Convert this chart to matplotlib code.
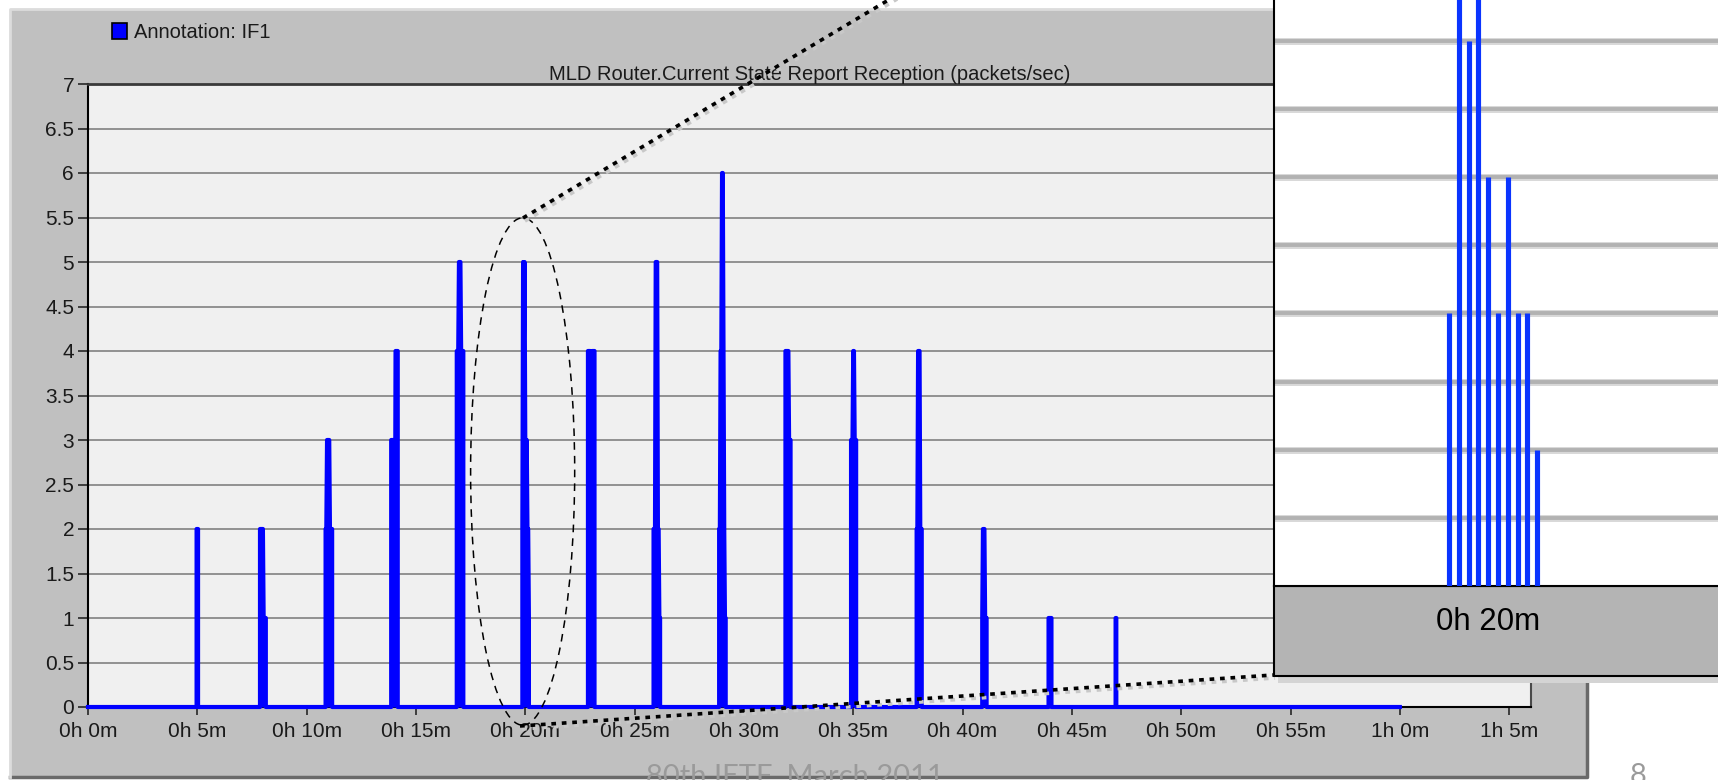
import numpy as np
import matplotlib
matplotlib.use('Agg')
import matplotlib.pyplot as plt
import matplotlib.transforms as mtransforms
from matplotlib.patches import Rectangle, Ellipse
from matplotlib.lines import Line2D

plt.rcParams['font.family'] = ['Liberation Sans', 'DejaVu Sans']

# ---- data ----
# one burst of report packets every 3 minutes, values are packets/sec per sample
spike_minutes = [5, 8, 11, 14, 17, 20, 23, 26, 29, 32, 35, 38, 41, 44, 47]
spike_values = [
    [2, 2, 2],
    [2, 2, 2, 2, 2, 1, 1, 1, 1],
    [2, 2, 3, 3, 3, 3, 2, 2, 2, 2],
    [3, 3, 3, 3, 1, 1, 4, 4, 4, 4],
    [4, 4, 4, 5, 5, 5, 4, 4, 4, 4],
    [2, 5, 4, 5, 3, 2, 3, 2, 2, 1],
    [4, 4, 4, 4, 1, 1, 4, 4, 4, 4],
    [2, 2, 2, 5, 5, 5, 2, 2, 1, 1],
    [2, 2, 4, 4, 6, 6, 4, 2, 1, 1],
    [4, 4, 4, 4, 4, 3, 3, 3],
    [3, 3, 3, 4, 4, 3, 3, 3],
    [2, 2, 4, 4, 4, 2, 2, 2],
    [1, 2, 2, 2, 1, 1, 1],
    [1, 1, 1, 1, 1],
    [1, 1],
]
sample_step = 2 / 60.0      # time between samples inside a burst (min)
trace_end = 60              # trace stops at 1h 0m
zoom_minute = 20            # burst shown in the zoomed box

x_ticks = [0, 5, 10, 15, 20, 25, 30, 35, 40, 45, 50, 55, 60, 65]
x_labels = ['0h 0m', '0h 5m', '0h 10m', '0h 15m', '0h 20m', '0h 25m', '0h 30m',
            '0h 35m', '0h 40m', '0h 45m', '0h 50m', '0h 55m', '1h 0m', '1h 5m']
y_ticks = [0, 0.5, 1, 1.5, 2, 2.5, 3, 3.5, 4, 4.5, 5, 5.5, 6, 6.5, 7]
y_labels = ['0', '0.5', '1', '1.5', '2', '2.5', '3', '3.5', '4', '4.5',
            '5', '5.5', '6', '6.5', '7']
inset_grid = [0.5, 1, 1.5, 2, 2.5, 3, 3.5, 4]

title = 'MLD Router.Current State Report Reception (packets/sec)'
legend_label = 'Annotation: IF1'
footer = '80th IETF, March 2011'
page_no = '8'

W, H = 1718, 780


def fx(px):
    return px / W


def fy(py):
    return 1 - py / H


def burst_times(m, vals):
    t0 = m - (len(vals) - 1) // 2 * sample_step
    return [t0 + i * sample_step for i in range(len(vals))]


xs, ys = [0.0], [0.0]
for m, vals in zip(spike_minutes, spike_values):
    ts = burst_times(m, vals)
    xs += [ts[0]] + ts + [ts[-1]]
    ys += [0] + vals + [0]
xs.append(trace_end)
ys.append(0)

fig = plt.figure(figsize=(W / 100, H / 100), dpi=100)
fig.patch.set_facecolor('white')

# grey window frame
fig.add_artist(Rectangle((fx(10), fy(777)), fx(1587) - fx(10), fy(9) - fy(777),
                         transform=fig.transFigure, facecolor='#c0c0c0',
                         edgecolor='none', zorder=-2))
fig.add_artist(Line2D([fx(1587), fx(1587), fx(10)], [fy(9), fy(777), fy(777)],
                      transform=fig.transFigure, color='#6a6a6a', lw=2.5, zorder=-1))
fig.add_artist(Line2D([fx(10), fx(10), fx(1587)], [fy(777), fy(9), fy(9)],
                      transform=fig.transFigure, color='#dcdcdc', lw=2, zorder=-1))

# main chart
ax = fig.add_axes([fx(88), fy(707), fx(1531) - fx(88), fy(84) - fy(707)])
ax.set_facecolor('#f0f0f0')
ax.fill_between(xs, ys, 0, color='#0000ff', lw=0, zorder=3)
ax.plot(xs, ys, color='#0000ff', lw=3.0, zorder=3, clip_on=False)
ax.set_xlim(0, 66)
ax.set_ylim(0, 7)
ax.set_xticks(x_ticks)
ax.set_xticklabels(x_labels)
ax.set_yticks(y_ticks)
ax.set_yticklabels(y_labels)
ax.yaxis.grid(True, color='#8a8a8a', lw=1.3)
ax.set_axisbelow(True)
ax.tick_params(axis='x', length=5.5, width=1.1, pad=5, labelsize=15, colors='#1a1a1a')
ax.tick_params(axis='y', length=7.5, width=1.1, pad=2.5, labelsize=15, colors='#1a1a1a')
ax.spines['left'].set_linewidth(1.5)
ax.spines['bottom'].set_linewidth(1.5)
ax.spines['top'].set_color('#3a3a3a')
ax.spines['top'].set_linewidth(2)
ax.spines['right'].set_color('#4a4a4a')
ax.spines['right'].set_linewidth(1.5)
ax.set_title(title, fontsize=14.5, pad=3, color='#1a1a1a')

# legend box top-left
fig.add_artist(Rectangle((fx(112), fy(39)), fx(127) - fx(112), fy(23) - fy(39),
                         transform=fig.transFigure, facecolor='#0000ff',
                         edgecolor='black', lw=1.2, zorder=2))
fig.text(fx(134), fy(32), legend_label, fontsize=14.5, va='center', ha='left',
         color='#1a1a1a')

# dashed ellipse around the 20m burst
ax.add_patch(Ellipse((19.88, 2.646), 4.76, 5.70, fill=False, ec='black',
                     lw=1.1, ls=(0, (5, 4)), clip_on=False, zorder=4))


def dotted(p0, p1):
    for dx, dy, c in [(2, 3, '#c8c8c8'), (0, 0, 'black')]:
        fig.add_artist(Line2D([fx(p0[0] + dx), fx(p1[0] + dx)],
                              [fy(p0[1] + dy), fy(p1[1] + dy)],
                              transform=fig.transFigure, color=c, lw=2.6,
                              ls=(0, (1.3, 1.6)), dash_capstyle='butt', zorder=6))


dotted((523, 218), (1274, -230))
dotted((520, 726), (1273, 675))

# zoomed box of the 20m burst
zvals = spike_values[spike_minutes.index(zoom_minute)]
zts = burst_times(zoom_minute, zvals)
fig.add_artist(Rectangle((fx(1278), fy(683)), fx(1718) - fx(1278), fy(676) - fy(683),
                         transform=fig.transFigure, facecolor='#d4d4d4',
                         edgecolor='none', zorder=8))
fig.add_artist(Rectangle((fx(1274), fy(676)), fx(1720) - fx(1274), fy(586) - fy(676),
                         transform=fig.transFigure, facecolor='#b4b4b4',
                         edgecolor='black', lw=1.5, zorder=9))
axi = fig.add_axes([fx(1274), fy(586), fx(1718) - fx(1274), 1 - fy(586)], zorder=10)
axi.set_facecolor('white')
for g in inset_grid:
    axi.axhline(g, color='#d8d8d8', lw=5, zorder=1)
    axi.axhline(g, color='#b2b2b2', lw=2.8, zorder=1.1)
axi.vlines(zts, 0, zvals, color='#0a34ff', lw=3.7, zorder=3)
axi.set_xlim(zts[0] - 17.86 * sample_step, zts[0] + 27.45 * sample_step)
axi.set_ylim(0, 4.30)
axi.set_xticks([])
axi.set_yticks([])
for s in ['top', 'right']:
    axi.spines[s].set_visible(False)
axi.spines['left'].set_linewidth(1.5)
axi.spines['bottom'].set_linewidth(1.5)
trans = mtransforms.blended_transform_factory(axi.transData, axi.transAxes)
axi.text(zoom_minute, -36 / 586, '0h 20m', transform=trans, ha='center',
         va='center', fontsize=22.5, color='black', clip_on=False)

# slide footer
fig.text(fx(795), fy(763), footer, fontsize=21, color='#9a9a9a', ha='center',
         va='top', family=['Lato', 'DejaVu Sans'], zorder=7)
fig.text(fx(1638), fy(763), page_no, fontsize=21, color='#9a9a9a', ha='center',
         va='top', family=['Lato', 'DejaVu Sans'], zorder=7)

fig.savefig('out.png', dpi=100)
